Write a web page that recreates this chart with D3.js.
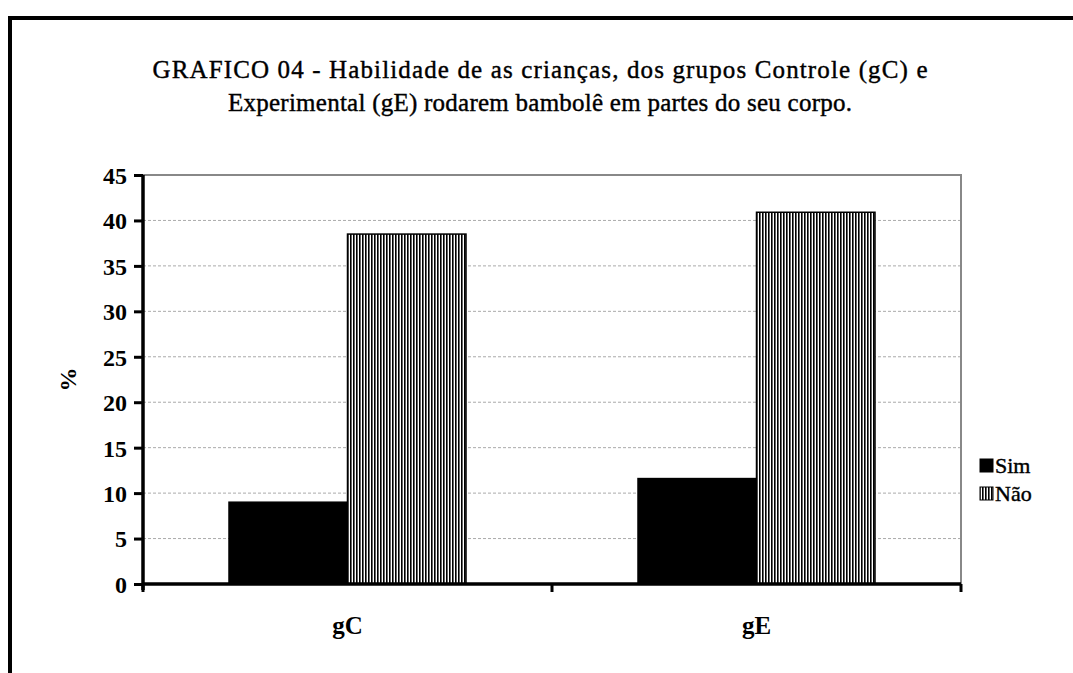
<!DOCTYPE html>
<html>
<head>
<meta charset="utf-8">
<script src="https://cdn.jsdelivr.net/npm/d3@7"></script>
<style>
  body { margin: 0; background: #fff; }
  svg text { font-family: "Liberation Serif", "Times New Roman", serif; fill: #000; }
  .grid line { stroke: #aaa; stroke-dasharray: 3,2; }
</style>
</head>
<body>
<svg id="chart" width="1073" height="673"></svg>
<script>
  var groups = [ "gC" , "gE" ];
  var seriesNames = [ "Sim" , "Não" ];
  var simValues = [ 9.0 , 11.6 ];
  var naoValues = [ 38.5 , 40.9 ];
  var yTicks = [ 0 , 5 , 10 , 15 , 20 , 25 , 30 , 35 , 40 , 45 ];
  var titleLines = [
    "GRAFICO 04 - Habilidade de as crianças, dos grupos Controle (gC) e",
    "Experimental (gE) rodarem bambolê em partes do seu corpo."
  ];
  var titleWidths = [ 775 , 624 ];

  var svg = d3.select( "#chart" );

  // pattern for the "Não" bars
  var defs = svg.append( "defs" );
  var pat = defs.append( "pattern" )
    .attr( "id" , "stripes" )
    .attr( "patternUnits" , "userSpaceOnUse" )
    .attr( "width" , 3 ).attr( "height" , 10 );
  pat.append( "rect" ).attr( "width" , 3 ).attr( "height" , 10 ).attr( "fill" , "#fff" );
  pat.append( "rect" ).attr( "width" , 1.6 ).attr( "height" , 10 ).attr( "fill" , "#000" );

  // outer frame
  svg.append( "path" )
    .attr( "d" , "M10,673 V18 H1073" )
    .attr( "fill" , "none" ).attr( "stroke" , "#000" ).attr( "stroke-width" , 4 );

  var pLeft = 143, pRight = 961, pTop = 175, pBottom = 584;

  var x0 = d3.scaleBand().domain( groups ).range( [ pLeft , pRight ] );
  var x1 = d3.scaleBand().domain( seriesNames ).range( [ 86 , x0.bandwidth() - 86 ] );
  var y = d3.scaleLinear().domain( [ 0 , 45 ] ).range( [ pBottom , pTop ] );

  // title
  svg.append( "g" ).selectAll( "text" ).data( titleLines ).join( "text" )
    .attr( "x" , 540 ).attr( "y" , function( d , i ) { return 78 + i * 33; } )
    .attr( "text-anchor" , "middle" )
    .style( "font-size" , "25px" )
    .style( "stroke" , "#000" ).style( "stroke-width" , 0.4 )
    .attr( "textLength" , function( d , i ) { return titleWidths[ i ]; } )
    .attr( "lengthAdjust" , "spacing" )
    .text( function( d ) { return d; } );

  // gridlines
  svg.append( "g" ).attr( "class" , "grid" ).selectAll( "line" )
    .data( yTicks.filter( function( t ) { return t > 0 && t < 45; } ) ).join( "line" )
    .attr( "x1" , pLeft ).attr( "x2" , pRight )
    .attr( "y1" , function( d ) { return y( d ); } ).attr( "y2" , function( d ) { return y( d ); } );

  // plot area border (top/right)
  svg.append( "path" )
    .attr( "d" , "M" + pLeft + "," + y( 45 ) + " H" + pRight + " V" + pBottom )
    .attr( "fill" , "none" ).attr( "stroke" , "#888" ).attr( "stroke-width" , 2 );

  // bars
  var data = groups.map( function( g , i ) {
    return { group : g , values : [ simValues[ i ] , naoValues[ i ] ] };
  } );
  var gBars = svg.append( "g" ).selectAll( "g" ).data( data ).join( "g" )
    .attr( "transform" , function( d ) { return "translate(" + x0( d.group ) + ",0)"; } );
  gBars.selectAll( "rect" )
    .data( function( d ) { return d.values.map( function( v , j ) { return { key : seriesNames[ j ] , value : v }; } ); } )
    .join( "rect" )
    .attr( "x" , function( d ) { return x1( d.key ); } )
    .attr( "width" , x1.bandwidth() )
    .attr( "y" , function( d ) { return y( d.value ); } )
    .attr( "height" , function( d ) { return pBottom - y( d.value ); } )
    .attr( "fill" , function( d ) { return d.key === "Sim" ? "#000" : "url(#stripes)"; } )
    .attr( "stroke" , "#000" ).attr( "stroke-width" , 1.5 );

  // y axis
  var yAxis = svg.append( "g" )
    .attr( "transform" , "translate(" + pLeft + ",0)" )
    .call( d3.axisLeft( y ).tickValues( yTicks ).tickSize( 9 ).tickPadding( 7 ) );
  yAxis.select( ".domain" ).attr( "stroke-width" , 3.5 ).attr( "d" , "M0," + ( pBottom + 6 ) + "V" + pTop );
  yAxis.selectAll( ".tick line" ).attr( "stroke-width" , 3 );
  yAxis.selectAll( "text" ).style( "font-size" , "24px" ).style( "font-weight" , "bold" )
    .style( "font-family" , "Liberation Serif" ).attr( "dy" , "0.35em" );

  // x axis
  var xAxis = svg.append( "g" )
    .attr( "transform" , "translate(0," + pBottom + ")" )
    .call( d3.axisBottom( x0 ).tickSize( 0 ).tickPadding( 32 ) );
  xAxis.select( ".domain" ).attr( "stroke-width" , 3.5 ).attr( "d" , "M" + pLeft + ",0H" + pRight );
  xAxis.selectAll( "text" ).style( "font-size" , "25px" ).style( "font-weight" , "bold" )
    .style( "font-family" , "Liberation Serif" );
  xAxis.selectAll( ".sep" ).data( [ pLeft , pLeft + x0.bandwidth() , pRight ] ).join( "line" )
    .attr( "class" , "sep" )
    .attr( "x1" , function( d ) { return d; } ).attr( "x2" , function( d ) { return d; } )
    .attr( "y1" , 0 ).attr( "y2" , 8 )
    .attr( "stroke" , "#000" ).attr( "stroke-width" , 3 );

  // y label
  svg.append( "text" )
    .attr( "transform" , "translate(76," + ( ( pTop + pBottom ) / 2 ) + ") rotate(-90)" )
    .attr( "text-anchor" , "middle" )
    .style( "font-size" , "24px" ).style( "font-weight" , "bold" )
    .text( "%" );

  // legend
  var legend = svg.append( "g" ).attr( "transform" , "translate(979,452)" );
  var li = legend.selectAll( "g" ).data( seriesNames ).join( "g" )
    .attr( "transform" , function( d , i ) { return "translate(0," + i * 28 + ")"; } );
  li.append( "rect" )
    .attr( "x" , 1 ).attr( "y" , 7 ).attr( "width" , 13 ).attr( "height" , 13 )
    .attr( "fill" , function( d ) { return d === "Sim" ? "#000" : "url(#stripes)"; } )
    .attr( "stroke" , "#000" ).attr( "stroke-width" , 1 );
  li.append( "text" )
    .attr( "x" , 16 ).attr( "y" , 21 )
    .style( "font-size" , "22px" )
    .style( "stroke" , "#000" ).style( "stroke-width" , 0.4 )
    .text( function( d ) { return d; } );
</script>
</body>
</html>
